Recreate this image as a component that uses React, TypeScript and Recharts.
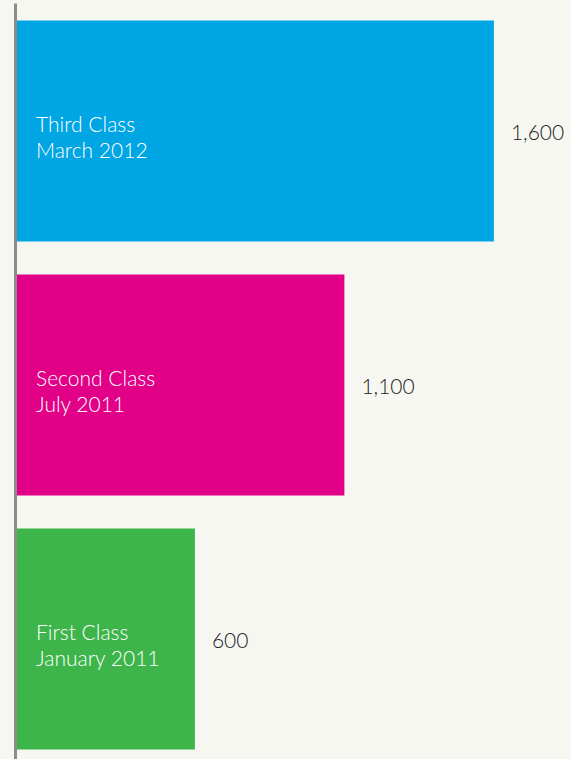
import React from "react";
import { BarChart, Bar, XAxis, YAxis, Cell, LabelList, ReferenceLine } from "recharts";

const classNames = ["Third Class", "Second Class", "First Class"];
const launchDates = ["March 2012", "July 2011", "January 2011"];
const students = [1600, 1100, 600];
const barColors = ["#00a5e3", "#e10087", "#3db54b"];

const data = classNames.map((name, i) => ({
  name,
  date: launchDates[i],
  value: students[i],
}));

const FONT = "Lato, 'Open Sans', sans-serif";

const InsideLabel = (props: any) => {
  const { x, y, height, index } = props;
  const cy = Number(y) + Number(height) / 2;
  return (
    <text x={Number(x) + 20.5} y={cy} fill="#ffffff" fontFamily={FONT} fontWeight={300} fontSize={21}>
      <tspan x={Number(x) + 20.5} y={cy + 0.5}>{data[index].name}</tspan>
      <tspan x={Number(x) + 20.5} y={cy + 26.5}>{data[index].date}</tspan>
    </text>
  );
};

const ValueLabel = (props: any) => {
  const { x, y, width, height, value } = props;
  const cy = Number(y) + Number(height) / 2;
  return (
    <text x={Number(x) + Number(width) + 17} y={cy + 8.5} fill="#222222" fontFamily={FONT} fontWeight={300} fontSize={21}>
      {Number(value).toLocaleString("en-US")}
    </text>
  );
};

export default function App() {
  return (
    <div style={{ position: "fixed", top: 0, left: 0, width: 571, height: 759, overflow: "hidden", background: "#f7f7f2" }}>
      <BarChart
        width={571}
        height={766}
        data={data}
        layout="vertical"
        margin={{ top: 3.5, right: 2.35, bottom: 0.5, left: 15.5 }}
        barCategoryGap={0}
      >
        <XAxis type="number" domain={[0, 1850]} hide />
        <YAxis type="category" dataKey="name" hide />
        <Bar dataKey="value" barSize={221} isAnimationActive={false}>
          {data.map((d, i) => (
            <Cell key={d.name} fill={barColors[i]} />
          ))}
          <LabelList dataKey="value" content={<InsideLabel />} />
          <LabelList dataKey="value" content={<ValueLabel />} />
        </Bar>
        <ReferenceLine x={0} stroke="#8c8c8c" strokeWidth={3} ifOverflow="extendDomain" />
      </BarChart>
    </div>
  );
}
